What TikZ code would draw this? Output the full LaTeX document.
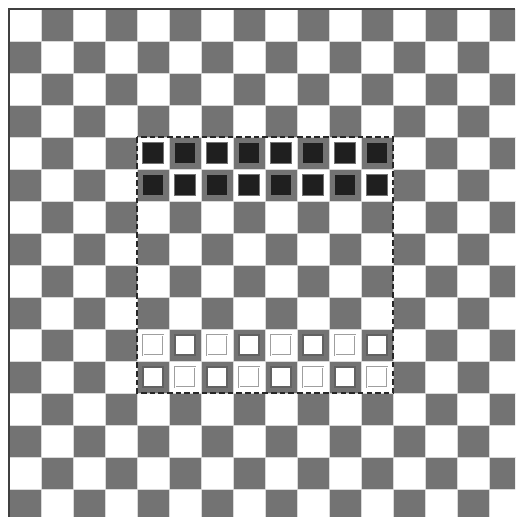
\documentclass[tikz,border=0pt]{standalone}
\usepackage{tikz}
\usetikzlibrary{positioning}

\begin{document}
\begin{tikzpicture}[
  x=0.03cm, y=-0.03cm,
  cell/.style={draw=gray!30, line width=0.5pt},
  darkcell/.style={cell, fill=black!55},
  lightcell/.style={cell, fill=white},
  blackman/.style={rectangle, draw=black!55, line width=0.8pt, fill=black!88, minimum size=0.63cm, inner sep=0pt},
  whiteman/.style={rectangle, draw=black!62, line width=1.2pt, fill=white, minimum size=0.6cm, inner sep=0pt},
  whitemanlight/.style={whiteman, draw=gray!75, line width=0.6pt, double=white, double distance=0.8pt},
  frame/.style={draw=black!85, line width=2.3pt, dash pattern=on 4.8pt off 2.6pt},
  edge/.style={draw=black!75, line width=1.5pt}
]
\useasboundingbox (0,0) rectangle (515,517);

% Board background
\begin{scope}
\clip (0,0) rectangle (515,517);
\fill[white] (0,0) rectangle (515,517);
\foreach \i in {0,...,15}
  \foreach \j in {0,...,15} {
    \pgfmathtruncatemacro{\oddcell}{mod(\i+\j,2)}
    \ifnum\oddcell=1
      \draw[darkcell] (9+32*\i,9+32*\j) rectangle ++(32,32);
    \else
      \draw[lightcell] (9+32*\i,9+32*\j) rectangle ++(32,32);
    \fi
  }
\draw[edge] (9,517) -- (9,9) -- (515,9);
\end{scope}

% Pieces
\foreach \c in {4,...,11}
  \foreach \r in {4,5}
    \node[blackman] (b-\c-\r) at (25+32*\c,25+32*\r) {};
\foreach \c in {4,...,11}
  \foreach \r in {10,11} {
    \pgfmathtruncatemacro{\oddcell}{mod(\c+\r,2)}
    \ifnum\oddcell=1
      \node[whiteman] (w-\c-\r) at (25+32*\c,25+32*\r) {};
    \else
      \node[whitemanlight] (w-\c-\r) at (25+32*\c,25+32*\r) {};
    \fi
  }

% Frame
\coordinate (tl) at (137,137);
\coordinate (br) at (393,393);
\draw[frame] (tl) rectangle (br);

\end{tikzpicture}
\end{document}
